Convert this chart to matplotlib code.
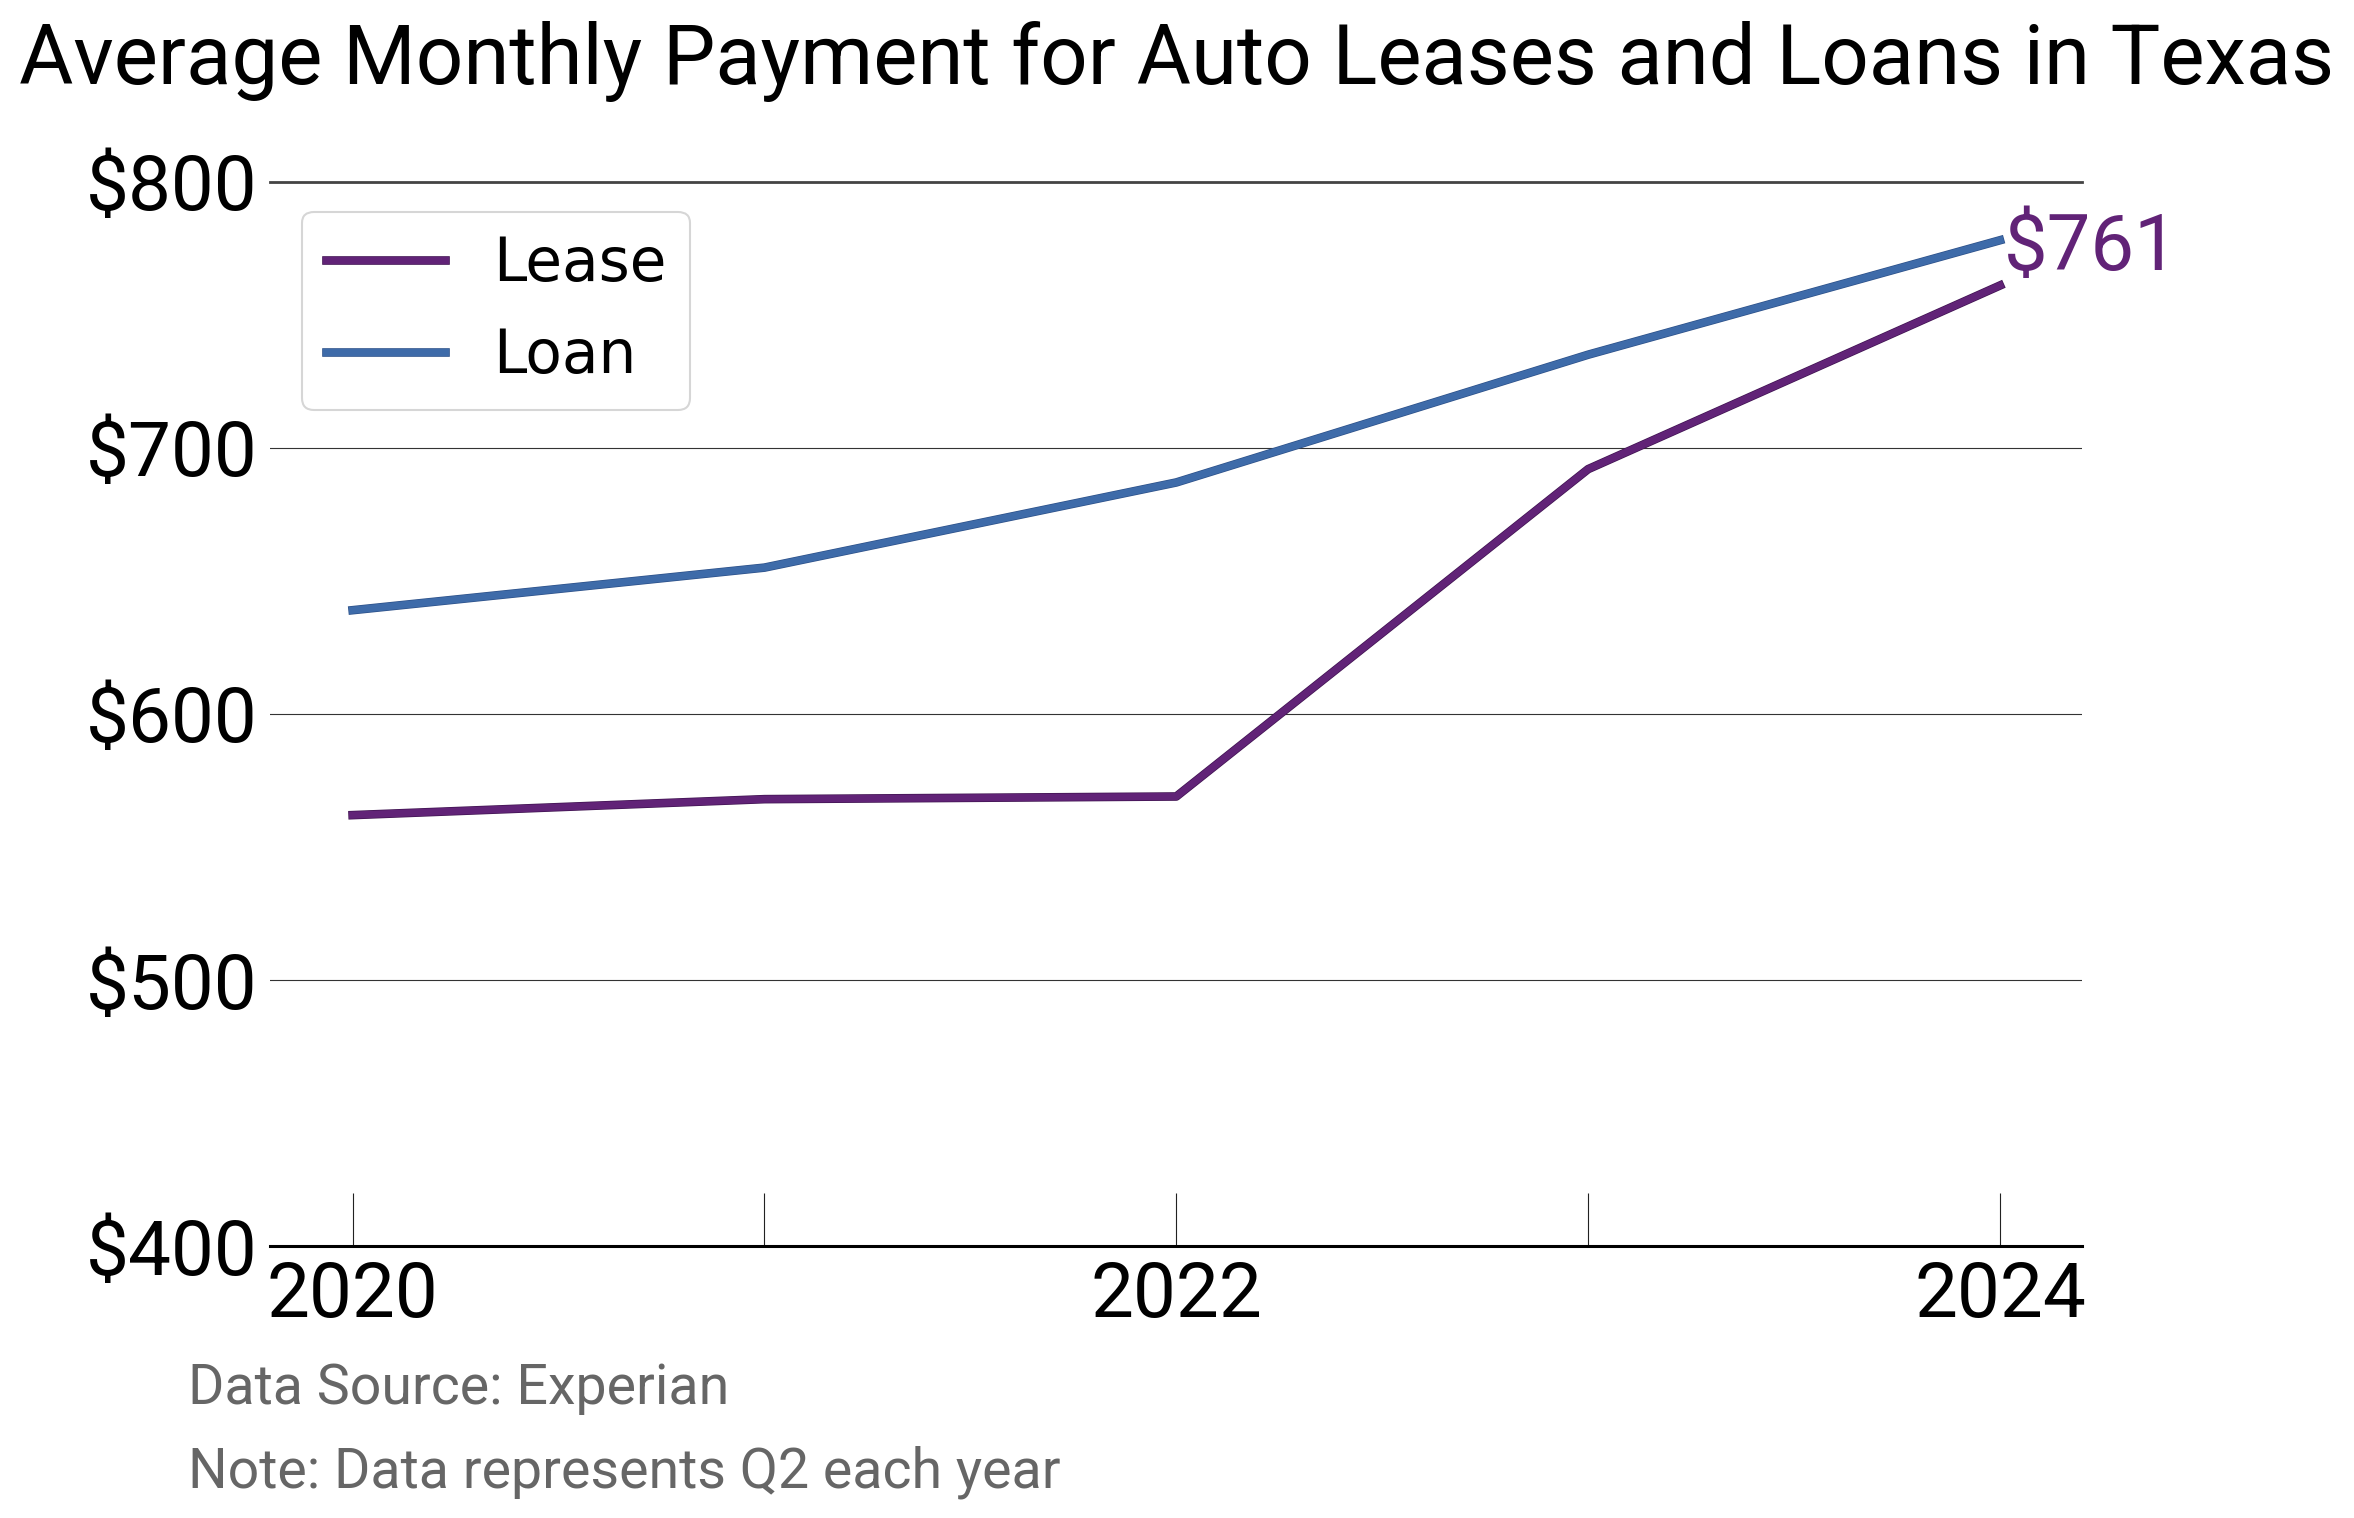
import numpy as np
import matplotlib
matplotlib.use('Agg')
import matplotlib.pyplot as plt
import matplotlib.patheffects as pe

#==============================================================================
# Data (Q2 each year)
#==============================================================================
years = [2020, 2021, 2022, 2023, 2024]
lease = [562, 568, 569, 692, 761]
loan = [639, 655, 687, 735, 778]
y_ticks = [400, 500, 600, 700, 800]
x_labels = ['2020', '', '2022', '', '2024']

lease_color = '#612377'
loan_color = '#3e6ba9'

#==============================================================================
# Figure
#==============================================================================
fig = plt.figure(figsize=(23.54, 15.18), dpi=100)
ax = fig.add_axes([0.1148, 0.179, 0.7698, 0.7013])

ax.plot(years, lease, color=lease_color, lw=5.2, label='Lease',
        path_effects=[pe.Stroke(linewidth=6.2, foreground='#3f1350'), pe.Normal()])
ax.plot(years, loan, color=loan_color, lw=5.2, label='Loan',
        path_effects=[pe.Stroke(linewidth=6.2, foreground='#2c5088'), pe.Normal()])

ax.set_xlim(2019.8, 2024.2)
ax.set_ylim(y_ticks[0], y_ticks[-1])

ax.set_yticks(y_ticks)
ax.set_yticklabels(['$%d' % v for v in y_ticks], fontfamily='Roboto', fontsize=55)
ax.set_xticks(years)
ax.set_xticklabels(x_labels, fontfamily='Roboto', fontsize=55)

ax.tick_params(axis='y', length=0, pad=9)
ax.tick_params(axis='x', direction='in', length=38, width=0.8, pad=10, color='#222222')

ax.yaxis.grid(True, color='#333333', lw=0.8)
ax.set_axisbelow(True)

for s in ['left', 'right']:
    ax.spines[s].set_visible(False)
ax.spines['bottom'].set_color('black')
ax.spines['bottom'].set_linewidth(2.2)
ax.spines['top'].set_color('#444444')
ax.spines['top'].set_linewidth(2.0)

# end label for lease
ax.text(years[-1] + 0.01, lease[-1], '$%d' % lease[-1], color=lease_color,
        fontfamily='Roboto', fontsize=56, ha='left', va='bottom')

leg = ax.legend(loc='upper left', bbox_to_anchor=(0.0174, 0.972), borderaxespad=0,
                fontsize=43, frameon=True, fancybox=True, handlelength=2.0,
                handletextpad=0.8, borderpad=0.4, labelspacing=0.55)
leg.get_frame().set_edgecolor('#cccccc')
leg.get_frame().set_linewidth(1.5)
for h in leg.get_lines():
    h.set_linewidth(5.2)

fig.text(0.5, 0.9446, 'Average Monthly Payment for Auto Leases and Loans in Texas',
         ha='center', va='baseline', fontfamily='Roboto', fontsize=60)
fig.text(0.0797, 0.0752, 'Data Source: Experian', ha='left', va='baseline',
         fontfamily='Roboto', fontsize=40, color='#666666')
fig.text(0.0797, 0.0198, 'Note: Data represents Q2 each year', ha='left', va='baseline',
         fontfamily='Roboto', fontsize=40, color='#666666')

fig.savefig('out.png', dpi=100, facecolor='white')
